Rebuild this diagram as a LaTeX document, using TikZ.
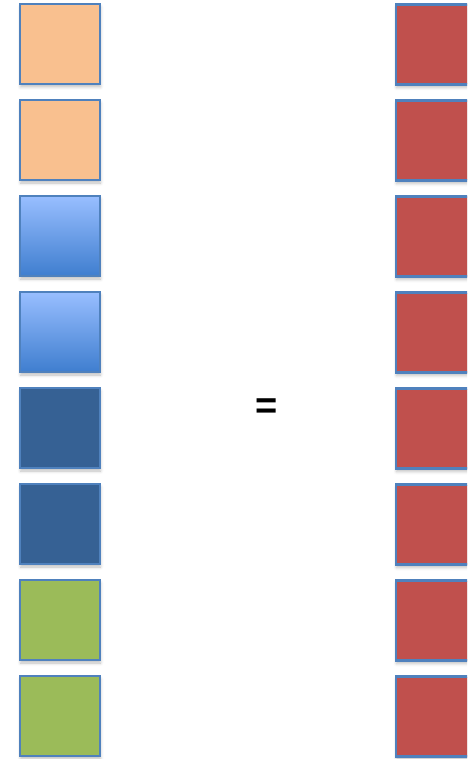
\documentclass[tikz,border=0pt]{standalone}
\usepackage{fontspec}
\setsansfont{Liberation Sans}
\usetikzlibrary{shadows.blur}

\definecolor{edgeblue}{HTML}{4F81BD}
\definecolor{peach}{HTML}{F9C08F}
\definecolor{skytop}{HTML}{98BEFF}
\definecolor{skybot}{HTML}{3F7ECF}
\definecolor{navy}{HTML}{366194}
\definecolor{olive}{HTML}{9BBB59}
\definecolor{brick}{HTML}{C0504D}

\begin{document}
\begin{tikzpicture}[
    x=1pt, y=-1pt,
    cell/.style={rectangle, draw=edgeblue, line width=2.2pt, minimum size=80pt, inner sep=0pt,
        blur shadow={shadow xshift=0.5pt, shadow yshift=-3pt, shadow blur radius=3pt, shadow opacity=25}},
    peachcell/.style={cell, fill=peach},
    skycell/.style={cell, top color=skytop, bottom color=skybot},
    navycell/.style={cell, fill=navy},
    olivecell/.style={cell, fill=olive},
    brickcell/.style={cell, fill=brick}
]
\useasboundingbox (0,0) rectangle (467,759);
\clip (0,0) rectangle (467,759);

% Left column
\node[peachcell] (L1) at (60, 44) {};
\node[peachcell] (L2) at (60, 140) {};
\node[skycell] (L3) at (60, 236) {};
\node[skycell] (L4) at (60, 332) {};
\node[navycell] (L5) at (60, 428) {};
\node[navycell] (L6) at (60, 524) {};
\node[olivecell] (L7) at (60, 620) {};
\node[olivecell] (L8) at (60, 716) {};

% Equals sign
\node[font=\sffamily\bfseries\fontsize{38}{40}\selectfont, inner sep=0pt] (eq) at (267, 409) {=};

% Right column (runs past the edge)
\node[brickcell] (R1) at (436, 44.5) {};
\node[brickcell] (R2) at (436, 140.5) {};
\node[brickcell] (R3) at (436, 236.5) {};
\node[brickcell] (R4) at (436, 332.5) {};
\node[brickcell] (R5) at (436, 428.5) {};
\node[brickcell] (R6) at (436, 524.5) {};
\node[brickcell] (R7) at (436, 620.5) {};
\node[brickcell] (R8) at (436, 716.5) {};

\end{tikzpicture}
\end{document}
